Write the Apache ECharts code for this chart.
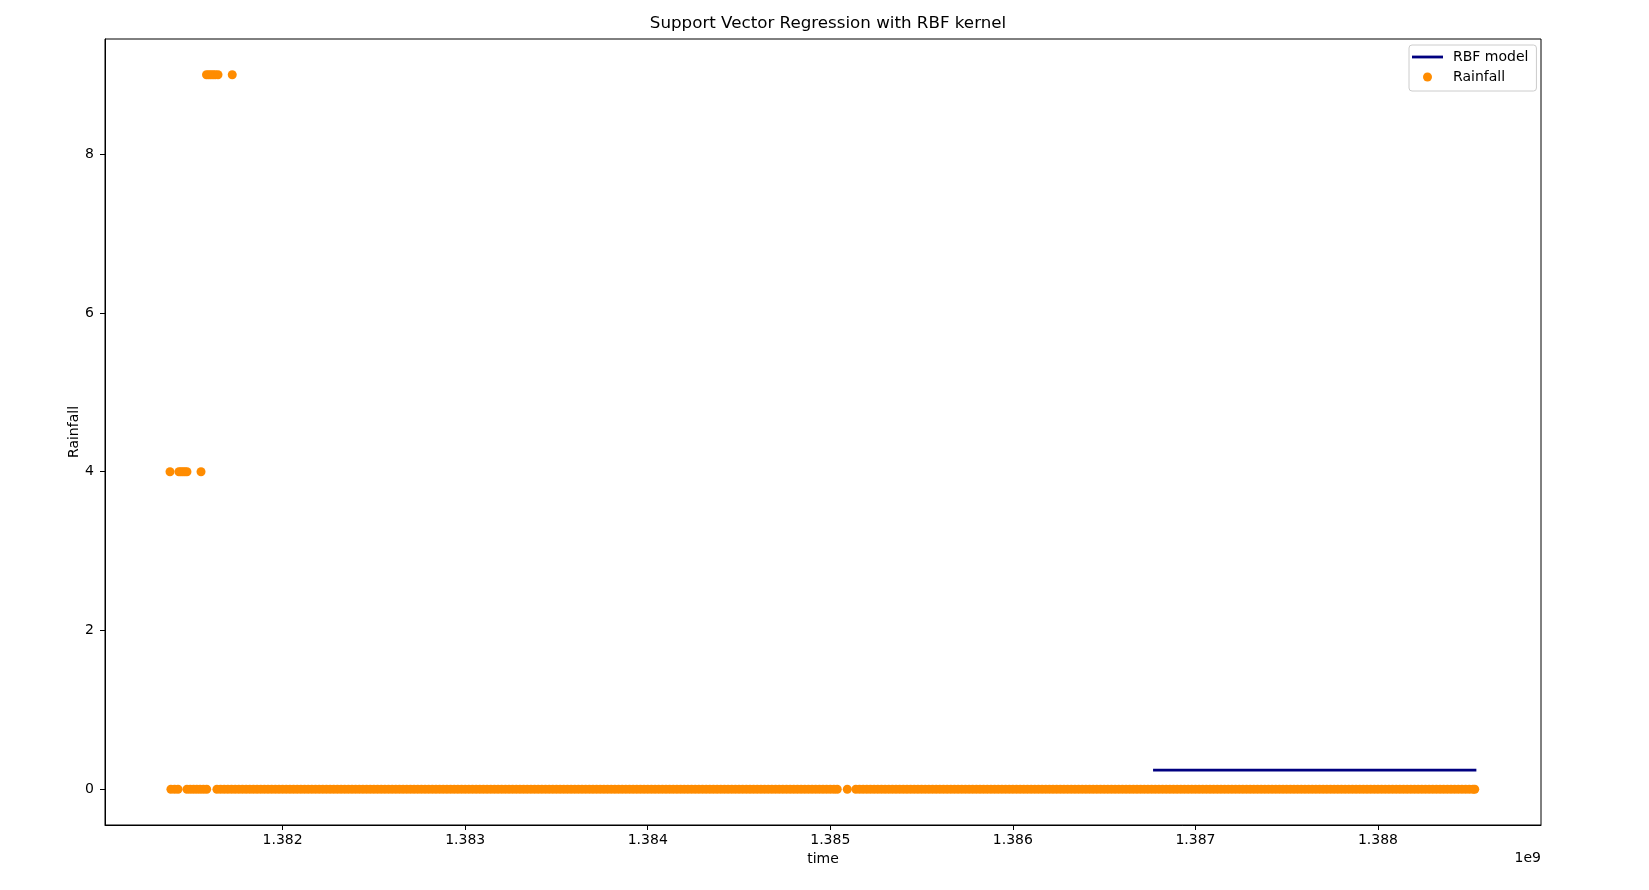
<!DOCTYPE html>
<html>
<head>
<meta charset="utf-8">
<script src="https://cdn.jsdelivr.net/npm/echarts@6/dist/echarts.min.js"></script>
<style>html,body{margin:0;padding:0;background:#fff}#c{width:1649px;height:890px}</style>
</head>
<body>
<div id="c"></div>
<script>
// time values in units of 1e6 seconds (axis shows value / 1000 with "1e9" offset)
const zeroSeg1 = [1381.388, 1381.408, 1381.427];
const zeroSeg2 = [1381.476, 1381.494, 1381.512, 1381.530, 1381.548, 1381.566, 1381.584];
const zeroSeg3 = [
  1381.64, 1381.66, 1381.68, 1381.70, 1381.72, 1381.74, 1381.76, 1381.78, 1381.80, 1381.82, 1381.84, 1381.86, 1381.88, 1381.90, 1381.92, 1381.94, 1381.96, 1381.98,
  1382.00, 1382.02, 1382.04, 1382.06, 1382.08, 1382.10, 1382.12, 1382.14, 1382.16, 1382.18, 1382.20, 1382.22, 1382.24, 1382.26, 1382.28, 1382.30, 1382.32, 1382.34, 1382.36, 1382.38, 1382.40, 1382.42, 1382.44, 1382.46, 1382.48,
  1382.50, 1382.52, 1382.54, 1382.56, 1382.58, 1382.60, 1382.62, 1382.64, 1382.66, 1382.68, 1382.70, 1382.72, 1382.74, 1382.76, 1382.78, 1382.80, 1382.82, 1382.84, 1382.86, 1382.88, 1382.90, 1382.92, 1382.94, 1382.96, 1382.98,
  1383.00, 1383.02, 1383.04, 1383.06, 1383.08, 1383.10, 1383.12, 1383.14, 1383.16, 1383.18, 1383.20, 1383.22, 1383.24, 1383.26, 1383.28, 1383.30, 1383.32, 1383.34, 1383.36, 1383.38, 1383.40, 1383.42, 1383.44, 1383.46, 1383.48,
  1383.50, 1383.52, 1383.54, 1383.56, 1383.58, 1383.60, 1383.62, 1383.64, 1383.66, 1383.68, 1383.70, 1383.72, 1383.74, 1383.76, 1383.78, 1383.80, 1383.82, 1383.84, 1383.86, 1383.88, 1383.90, 1383.92, 1383.94, 1383.96, 1383.98,
  1384.00, 1384.02, 1384.04, 1384.06, 1384.08, 1384.10, 1384.12, 1384.14, 1384.16, 1384.18, 1384.20, 1384.22, 1384.24, 1384.26, 1384.28, 1384.30, 1384.32, 1384.34, 1384.36, 1384.38, 1384.40, 1384.42, 1384.44, 1384.46, 1384.48,
  1384.50, 1384.52, 1384.54, 1384.56, 1384.58, 1384.60, 1384.62, 1384.64, 1384.66, 1384.68, 1384.70, 1384.72, 1384.74, 1384.76, 1384.78, 1384.80, 1384.82, 1384.84, 1384.86, 1384.88, 1384.90, 1384.92, 1384.94, 1384.96, 1384.98,
  1385.00, 1385.02, 1385.038
];
const zeroSeg4 = [1385.093];
const zeroSeg5 = [
  1385.14, 1385.16, 1385.18, 1385.20, 1385.22, 1385.24, 1385.26, 1385.28, 1385.30, 1385.32, 1385.34, 1385.36, 1385.38, 1385.40, 1385.42, 1385.44, 1385.46, 1385.48,
  1385.50, 1385.52, 1385.54, 1385.56, 1385.58, 1385.60, 1385.62, 1385.64, 1385.66, 1385.68, 1385.70, 1385.72, 1385.74, 1385.76, 1385.78, 1385.80, 1385.82, 1385.84, 1385.86, 1385.88, 1385.90, 1385.92, 1385.94, 1385.96, 1385.98,
  1386.00, 1386.02, 1386.04, 1386.06, 1386.08, 1386.10, 1386.12, 1386.14, 1386.16, 1386.18, 1386.20, 1386.22, 1386.24, 1386.26, 1386.28, 1386.30, 1386.32, 1386.34, 1386.36, 1386.38, 1386.40, 1386.42, 1386.44, 1386.46, 1386.48,
  1386.50, 1386.52, 1386.54, 1386.56, 1386.58, 1386.60, 1386.62, 1386.64, 1386.66, 1386.68, 1386.70, 1386.72, 1386.74, 1386.76, 1386.78, 1386.80, 1386.82, 1386.84, 1386.86, 1386.88, 1386.90, 1386.92, 1386.94, 1386.96, 1386.98,
  1387.00, 1387.02, 1387.04, 1387.06, 1387.08, 1387.10, 1387.12, 1387.14, 1387.16, 1387.18, 1387.20, 1387.22, 1387.24, 1387.26, 1387.28, 1387.30, 1387.32, 1387.34, 1387.36, 1387.38, 1387.40, 1387.42, 1387.44, 1387.46, 1387.48,
  1387.50, 1387.52, 1387.54, 1387.56, 1387.58, 1387.60, 1387.62, 1387.64, 1387.66, 1387.68, 1387.70, 1387.72, 1387.74, 1387.76, 1387.78, 1387.80, 1387.82, 1387.84, 1387.86, 1387.88, 1387.90, 1387.92, 1387.94, 1387.96, 1387.98,
  1388.00, 1388.02, 1388.04, 1388.06, 1388.08, 1388.10, 1388.12, 1388.14, 1388.16, 1388.18, 1388.20, 1388.22, 1388.24, 1388.26, 1388.28, 1388.30, 1388.32, 1388.34, 1388.36, 1388.38, 1388.40, 1388.42, 1388.44, 1388.46, 1388.48,
  1388.50, 1388.52, 1388.53
];
const fourTimes = [1381.383, 1381.432, 1381.443, 1381.454, 1381.465, 1381.476, 1381.553];
const nineTimes = [1381.583, 1381.595, 1381.607, 1381.619, 1381.631, 1381.646, 1381.724];
const modelTimes = [1386.768, 1388.539];
const modelValues = [0.24, 0.24];
const xTicks = [1382, 1383, 1384, 1385, 1386, 1387, 1388];
const yTicks = [0, 2, 4, 6, 8];

const zeroTimes = [].concat(zeroSeg1, zeroSeg2, zeroSeg3, zeroSeg4, zeroSeg5);
const rainData = []
  .concat(zeroTimes.map(t => [t, 0]))
  .concat(fourTimes.map(t => [t, 4]))
  .concat(nineTimes.map(t => [t, 9]));
const modelData = modelTimes.map((t, i) => [t, modelValues[i]]);

const FONT = 'DejaVu Sans';
const chart = echarts.init(document.getElementById('c'), null, {renderer: 'canvas'});
chart.setOption({
  animation: false,
  backgroundColor: '#ffffff',
  textStyle: {fontFamily: FONT, color: '#000'},
  title: {
    text: 'Support Vector Regression with RBF kernel',
    left: 823, top: 10, textAlign: 'center',
    textStyle: {fontFamily: FONT, fontSize: 16.7, fontWeight: 'normal', color: '#000'}
  },
  legend: {
    orient: 'vertical', left: 1409, top: 45,
    padding: [5, 8, 7, 3], itemGap: 6, itemWidth: 31, itemHeight: 9,
    symbolKeepAspect: true,
    backgroundColor: 'rgba(255,255,255,0.8)', borderColor: '#cccccc', borderWidth: 1, borderRadius: 3,
    textStyle: {fontFamily: FONT, fontSize: 14, color: '#000', lineHeight: 14, padding: [0, 0, 0, 5]},
    data: [
      {name: 'RBF model', icon: 'path://M0,0 L31,0 L31,2.8 L0,2.8 Z'},
      {name: 'Rainfall', icon: 'circle'}
    ]
  },
  grid: {left: 105, right: 108, top: 39, bottom: 65, show: true, borderColor: '#000', borderWidth: 1, containLabel: false},
  xAxis: {
    type: 'value', min: 1381.027, max: 1388.893,
    name: 'time', nameLocation: 'middle', nameGap: 27,
    nameTextStyle: {fontFamily: FONT, fontSize: 14, color: '#000'},
    axisLine: {show: true, onZero: false, lineStyle: {color: '#000', width: 1}},
    axisTick: {show: true, length: 5, lineStyle: {color: '#000'}, customValues: xTicks},
    axisLabel: {show: true, margin: 8, fontFamily: FONT, fontSize: 14, color: '#000', customValues: xTicks,
      formatter: v => (v / 1000).toFixed(3)},
    splitLine: {show: false}
  },
  yAxis: {
    type: 'value', min: -0.45, max: 9.45,
    name: 'Rainfall', nameLocation: 'middle', nameGap: 24, nameRotate: 90, nameMoveOverlap: false,
    nameTextStyle: {fontFamily: FONT, fontSize: 14, color: '#000'},
    axisLine: {show: true, onZero: false, lineStyle: {color: '#000', width: 1}},
    axisTick: {show: true, length: 5, lineStyle: {color: '#000'}, customValues: yTicks},
    axisLabel: {show: true, margin: 11, fontFamily: FONT, fontSize: 14, color: '#000', customValues: yTicks,
      formatter: v => String(Math.round(v))},
    splitLine: {show: false}
  },
  graphic: [{
    type: 'text', right: 1649 - 1541, top: 851,
    style: {text: '1e9', fontFamily: FONT, fontSize: 14, fill: '#000'}
  }],
  series: [
    {
      name: 'RBF model', type: 'line', data: modelData, symbol: 'none', showSymbol: false,
      lineStyle: {color: '#000080', width: 2.8, cap: 'butt'}, itemStyle: {color: '#000080'}, z: 3
    },
    {
      name: 'Rainfall', type: 'scatter', data: rainData, symbol: 'circle', symbolSize: 9,
      itemStyle: {color: '#ff8c00', opacity: 1}, z: 2
    }
  ]
});
</script>
</body>
</html>
